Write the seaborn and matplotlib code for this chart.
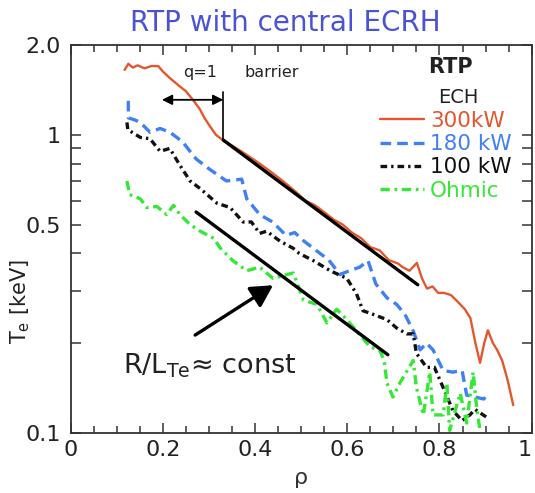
import numpy as np
import pandas as pd
import matplotlib
matplotlib.use('Agg')
import matplotlib.pyplot as plt
import seaborn as sns

# 各加热功率下的电子温度剖面 (rho, Te[keV])
rho_300 = [0.117, 0.125, 0.135, 0.145, 0.16, 0.175, 0.19, 0.20, 0.215, 0.235,
           0.25, 0.265, 0.28, 0.29, 0.30, 0.315, 0.33, 0.345, 0.36, 0.375,
           0.39, 0.41, 0.43, 0.45, 0.47, 0.49, 0.51, 0.53, 0.55, 0.57,
           0.59, 0.61, 0.63, 0.65, 0.67, 0.69, 0.71, 0.72, 0.735, 0.751,
           0.762, 0.773, 0.785, 0.797, 0.81, 0.825, 0.84, 0.855, 0.867, 0.878,
           0.888, 0.897, 0.905, 0.916, 0.925, 0.936, 0.948, 0.96]
te_300 = [1.65, 1.73, 1.68, 1.71, 1.67, 1.70, 1.70, 1.63, 1.55, 1.46,
          1.40, 1.31, 1.22, 1.14, 1.08, 1.00, 0.96, 0.93, 0.90, 0.87,
          0.84, 0.80, 0.76, 0.72, 0.68, 0.64, 0.60, 0.58, 0.55, 0.52,
          0.50, 0.47, 0.45, 0.42, 0.41, 0.38, 0.37, 0.36, 0.35, 0.372,
          0.33, 0.305, 0.31, 0.295, 0.295, 0.29, 0.275, 0.26, 0.243, 0.20,
          0.172, 0.20, 0.221, 0.20, 0.19, 0.175, 0.15, 0.124]

rho_180 = [0.125, 0.125, 0.14, 0.151, 0.172, 0.194, 0.215, 0.242, 0.272, 0.302,
           0.338, 0.371, 0.382, 0.41, 0.438, 0.467, 0.486, 0.506, 0.541, 0.56,
           0.584, 0.605, 0.627, 0.645, 0.662, 0.686, 0.707, 0.725, 0.743, 0.758,
           0.772, 0.786, 0.808, 0.829, 0.849, 0.859, 0.877, 0.896, 0.905]
te_180 = [1.30, 1.14, 1.12, 1.10, 1.02, 1.05, 1.02, 0.95, 0.83, 0.765,
          0.70, 0.71, 0.61, 0.54, 0.51, 0.46, 0.47, 0.44, 0.40, 0.38,
          0.34, 0.35, 0.36, 0.378, 0.316, 0.284, 0.27, 0.25, 0.22, 0.19,
          0.20, 0.19, 0.162, 0.16, 0.162, 0.134, 0.132, 0.13, 0.135]

rho_100 = [0.122, 0.124, 0.151, 0.172, 0.194, 0.215, 0.237, 0.259, 0.281, 0.317,
           0.346, 0.374, 0.392, 0.41, 0.425, 0.454, 0.483, 0.496, 0.527, 0.563,
           0.599, 0.62, 0.634, 0.656, 0.686, 0.707, 0.729, 0.743, 0.75, 0.772,
           0.789, 0.808, 0.829, 0.849, 0.866, 0.877, 0.902]
te_100 = [1.10, 1.04, 0.98, 0.97, 0.88, 0.90, 0.79, 0.70, 0.66, 0.59,
          0.57, 0.51, 0.51, 0.467, 0.475, 0.44, 0.416, 0.40, 0.378, 0.35,
          0.33, 0.293, 0.257, 0.25, 0.24, 0.225, 0.215, 0.215, 0.185, 0.166,
          0.166, 0.142, 0.119, 0.11, 0.115, 0.12, 0.113]

rho_ohm = [0.122, 0.128, 0.151, 0.165, 0.187, 0.208, 0.223, 0.237, 0.259, 0.281,
           0.31, 0.324, 0.352, 0.382, 0.41, 0.439, 0.469, 0.483, 0.505, 0.534,
           0.556, 0.577, 0.599, 0.62, 0.65, 0.67, 0.68, 0.686, 0.699, 0.714,
           0.743, 0.75, 0.765, 0.779, 0.786, 0.808, 0.816, 0.822, 0.845, 0.859,
           0.873, 0.881, 0.888]
te_ohm = [0.70, 0.63, 0.61, 0.57, 0.575, 0.54, 0.58, 0.54, 0.50, 0.475,
          0.45, 0.418, 0.378, 0.35, 0.36, 0.33, 0.34, 0.344, 0.279, 0.27,
          0.234, 0.26, 0.24, 0.22, 0.194, 0.19, 0.175, 0.147, 0.132, 0.147,
          0.175, 0.142, 0.115, 0.16, 0.115, 0.115, 0.147, 0.102, 0.136, 0.108,
          0.16, 0.12, 0.102]

# 两条 R/L_Te 直线
fit1_rho = [0.331, 0.753]
fit1_te = [0.96, 0.314]
fit2_rho = [0.272, 0.688]
fit2_te = [0.551, 0.183]

labels = ['300kW', '180 kW', '100 kW', 'Ohmic']
colors = ['#e4572e', '#3f80f2', '#111111', '#35e835']

x_ticks = [0, 0.2, 0.4, 0.6, 0.8, 1.0]
x_ticklabels = ['0', '0.2', '0.4', '0.6', '0.8', '1']
y_ticks = [0.1, 0.5, 1.0, 2.0]
y_ticklabels = ['0.1', '0.5', '1', '2.0']
y_minor = [0.2, 0.3, 0.4, 0.6, 0.7, 0.8, 0.9]

sns.set_style('ticks')
plt.rcParams['font.family'] = ['DejaVu Sans']
plt.rcParams['mathtext.default'] = 'regular'

fig = plt.figure(figsize=(5.35, 4.93), dpi=100)
ax = fig.add_subplot(111)
plt.subplots_adjust(left=0.1321, right=0.9938, bottom=0.1217, top=0.9087)

sns.lineplot(x=rho_300, y=te_300, ax=ax, sort=False, estimator=None,
             color=colors[0], lw=1.7, label=labels[0])
sns.lineplot(x=rho_180, y=te_180, ax=ax, sort=False, estimator=None,
             color=colors[1], lw=2.4, linestyle=(0, (3.2, 1.8)), label=labels[1])
sns.lineplot(x=rho_100, y=te_100, ax=ax, sort=False, estimator=None,
             color=colors[2], lw=2.4, linestyle=(0, (2.0, 1.2, 0.7, 1.2)), label=labels[2])
sns.lineplot(x=rho_ohm, y=te_ohm, ax=ax, sort=False, estimator=None,
             color=colors[3], lw=2.4, linestyle=(0, (2.8, 1.4, 0.8, 1.4)), label=labels[3])

# 拟合直线
sns.lineplot(x=fit1_rho, y=fit1_te, ax=ax, sort=False, estimator=None,
             color='k', lw=2.4, legend=False)
sns.lineplot(x=fit2_rho, y=fit2_te, ax=ax, sort=False, estimator=None,
             color='k', lw=2.4, legend=False)

ax.set_yscale('log')
ax.set_xlim(0, 1)
ax.set_ylim(0.1, 2.0)
ax.set_xticks(x_ticks)
ax.set_xticklabels(x_ticklabels)
ax.set_xticks(np.arange(0.05, 1.0, 0.05), minor=True)
ax.set_yticks(y_ticks)
ax.set_yticklabels(y_ticklabels)
ax.set_yticks(y_minor, minor=True)
ax.yaxis.set_minor_formatter(matplotlib.ticker.NullFormatter())
ax.get_xticklabels()[-1].set_ha('right')  # 最右边的"1"别被裁掉

for s in ax.spines.values():
    s.set_linewidth(1.3)
    s.set_color('#333333')
ax.tick_params(axis='both', which='both', labelsize=16, colors='#333333',
               labelcolor='#222222', width=1.1)
ax.tick_params(axis='x', which='both', top=True, direction='in', pad=5)
ax.tick_params(axis='x', which='major', length=7)
ax.tick_params(axis='x', which='minor', length=5)
ax.tick_params(axis='y', which='both', right=True, direction='in', pad=7, length=7)
ax.set_xlabel('ρ', fontsize=16, color='#333333', labelpad=6)
ax.set_ylabel('')

# q=1 标记
ax.plot([fit1_rho[0], fit1_rho[0]], [1.39, fit1_te[0]], color='k', lw=1.2)
ax.annotate('', xy=(0.198, 1.31), xytext=(fit1_rho[0], 1.31),
            arrowprops=dict(arrowstyle='<|-|>,head_length=0.5,head_width=0.25',
                            color='k', lw=1.3, mutation_scale=12, shrinkA=0, shrinkB=0))
ax.text(0.28, 1.62, 'q=1', fontsize=11.5, ha='center', va='center', color='#222222')
ax.text(0.437, 1.62, 'barrier', fontsize=11.5, ha='center', va='center', color='#222222')

# R/L_Te 箭头
ax.annotate('', xy=(0.439, 0.313), xytext=(0.27, 0.213),
            arrowprops=dict(arrowstyle='-|>,head_length=0.55,head_width=0.3',
                            color='k', lw=2.4, mutation_scale=24, shrinkA=0, shrinkB=0))
ax.text(0.113, 0.158, r'R/L$_{Te}$≈ const', fontsize=19.5, ha='left',
        va='baseline', color='#222222')

ax.text(0.823, 0.943, 'RTP', transform=ax.transAxes, fontsize=15, fontweight='bold',
        ha='center', va='center', color='#222222')
ax.text(0.84, 0.866, 'ECH', transform=ax.transAxes, fontsize=14,
        ha='center', va='center', color='#222222')

ax.legend(loc='upper left', bbox_to_anchor=(0.672, 0.83), frameon=False,
          fontsize=15.5, handlelength=2.0, handletextpad=0.3, labelspacing=0.15,
          borderpad=0, borderaxespad=0, labelcolor='linecolor')

fig.text(0.533, 0.953, 'RTP with central ECRH', fontsize=20, color='#4a52d6',
         ha='center', va='center')
fig.text(0.037, 0.389, r'T$_e$ [keV]', fontsize=15, rotation=90,
         ha='center', va='center', color='#222222')

plt.savefig('out.png', dpi=100)
